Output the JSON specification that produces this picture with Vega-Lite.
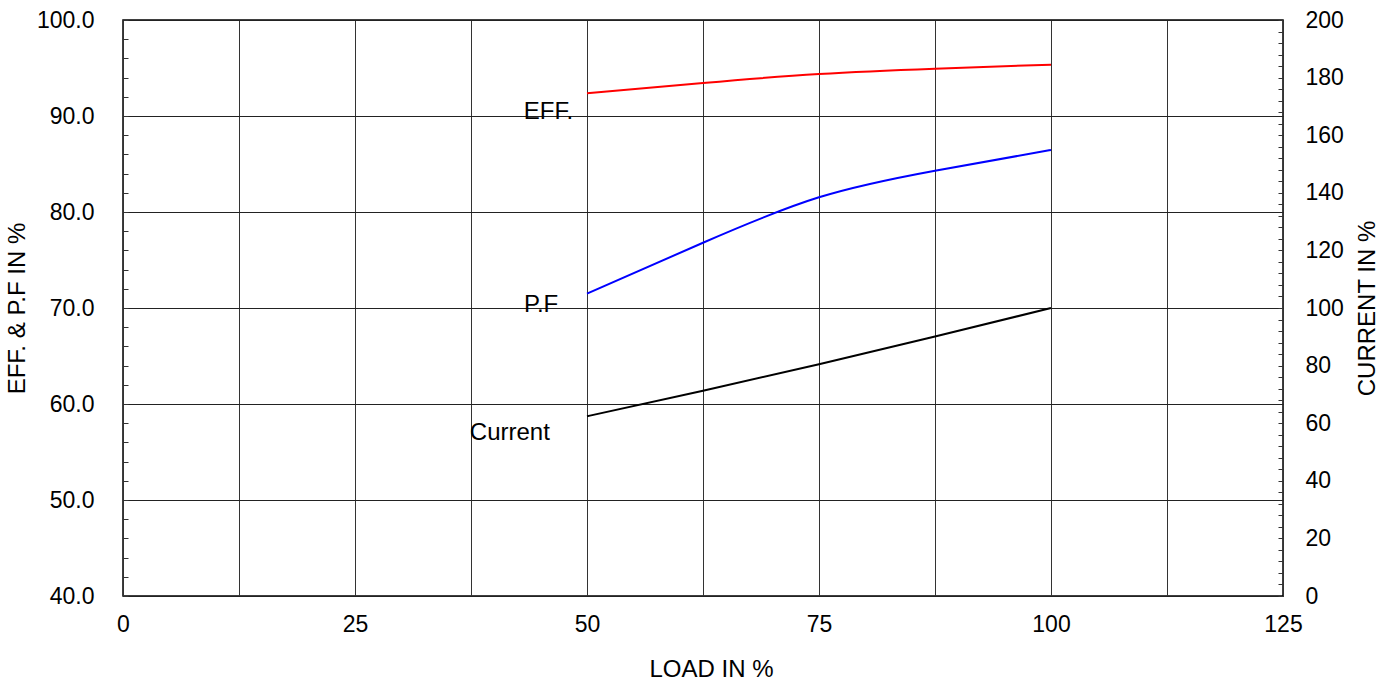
{
  "$schema": "https://vega.github.io/schema/vega-lite/v6.json",
  "width": 1160,
  "height": 576,
  "autosize": "none",
  "padding": {"left": 123, "top": 20, "right": 114, "bottom": 85},
  "background": "white",
  "config": {
    "view": {"stroke": "black", "strokeWidth": 1.5},
    "font": "Liberation Sans",
    "axis": {
      "labelFont": "Liberation Sans",
      "titleFont": "Liberation Sans",
      "labelFontSize": 23,
      "titleFontSize": 24,
      "titleFontWeight": "normal",
      "labelColor": "black",
      "titleColor": "black",
      "domain": false,
      "labelOverlap": false,
      "labelFlush": false
    }
  },
  "datasets": {
    "perf": [
      {"load": 50, "value": 92.36, "series": "EFF"},
      {"load": 62.5, "value": 93.44, "series": "EFF"},
      {"load": 75, "value": 94.37, "series": "EFF"},
      {"load": 87.5, "value": 94.93, "series": "EFF"},
      {"load": 100, "value": 95.35, "series": "EFF"},
      {"load": 50, "value": 71.49, "series": "PF"},
      {"load": 62.5, "value": 76.8, "series": "PF"},
      {"load": 75, "value": 81.53, "series": "PF"},
      {"load": 87.5, "value": 84.3, "series": "PF"},
      {"load": 100, "value": 86.46, "series": "PF"}
    ],
    "current": [
      {"load": 50, "current": 62.4},
      {"load": 62.5, "current": 71.3},
      {"load": 75, "current": 80.5},
      {"load": 87.5, "current": 90.1},
      {"load": 100, "current": 100}
    ],
    "labels": [
      {"load": 48.5, "value": 90.4, "label": "EFF."},
      {"load": 46.9, "value": 70.3, "label": "P.F"},
      {"load": 46.0, "value": 57.0, "label": "Current"}
    ]
  },
  "layer": [
    {
      "layer": [
        {
          "data": {"name": "perf"},
          "mark": {"type": "line", "interpolate": "natural", "strokeWidth": 2},
          "encoding": {
            "x": {
              "field": "load", "type": "quantitative",
              "scale": {"domain": [0, 125], "nice": false},
              "axis": {
                "values": [0, 12.5, 25, 37.5, 50, 62.5, 75, 87.5, 100, 112.5, 125],
                "tickCount": 200,
                "labelExpr": "datum.value % 25 === 0 ? format(datum.value, 'd') : ''",
                "grid": true, "gridColor": "#333", "gridWidth": 1, "gridOpacity": 1,
                "ticks": false, "labelPadding": 17,
                "title": "LOAD IN %", "titlePadding": 21, "titleX": 588
              }
            },
            "y": {
              "field": "value", "type": "quantitative",
              "scale": {"domain": [40, 100], "nice": false, "zero": false},
              "axis": {
                "values": [40,42,44,46,48,50,52,54,56,58,60,62,64,66,68,70,72,74,76,78,80,82,84,86,88,90,92,94,96,98,100],
                "tickCount": 200,
                "labelExpr": "datum.value % 10 === 0 ? format(datum.value, '.1f') : ''",
                "grid": true, "gridColor": "#222", "gridWidth": 1,
                "gridOpacity": {"condition": {"test": "datum.value % 10 === 0", "value": 1}, "value": 0},
                "ticks": true, "tickSize": -5, "tickColor": "#333", "tickWidth": 1,
                "labelPadding": 34,
                "title": "EFF. & P.F IN %", "titlePadding": 7
              }
            },
            "color": {
              "field": "series", "type": "nominal",
              "scale": {"domain": ["EFF", "PF"], "range": ["#ff0000", "#0000ff"]},
              "legend": null
            }
          }
        },
        {
          "data": {"name": "labels"},
          "mark": {"type": "text", "align": "right", "baseline": "middle", "fontSize": 24, "font": "Liberation Sans", "color": "black"},
          "encoding": {
            "x": {"field": "load", "type": "quantitative"},
            "y": {"field": "value", "type": "quantitative"},
            "text": {"field": "label"}
          }
        }
      ]
    },
    {
      "data": {"name": "current"},
      "mark": {"type": "line", "interpolate": "natural", "color": "black", "strokeWidth": 2},
      "encoding": {
        "x": {"field": "load", "type": "quantitative"},
        "y": {
          "field": "current", "type": "quantitative",
          "scale": {"domain": [0, 200], "nice": false},
          "axis": {
            "orient": "right",
            "values": [0,4,8,12,16,20,24,28,32,36,40,44,48,52,56,60,64,68,72,76,80,84,88,92,96,100,104,108,112,116,120,124,128,132,136,140,144,148,152,156,160,164,168,172,176,180,184,188,192,196,200],
            "tickCount": 200,
            "labelExpr": "datum.value % 20 === 0 ? datum.label : ''",
            "grid": false,
            "ticks": true, "tickSize": -5, "tickColor": "#333", "tickWidth": 1,
            "labelPadding": 27,
            "title": "CURRENT IN %", "titleAngle": 270, "titlePadding": 36
          }
        }
      }
    }
  ],
  "resolve": {"scale": {"y": "independent"}}
}
